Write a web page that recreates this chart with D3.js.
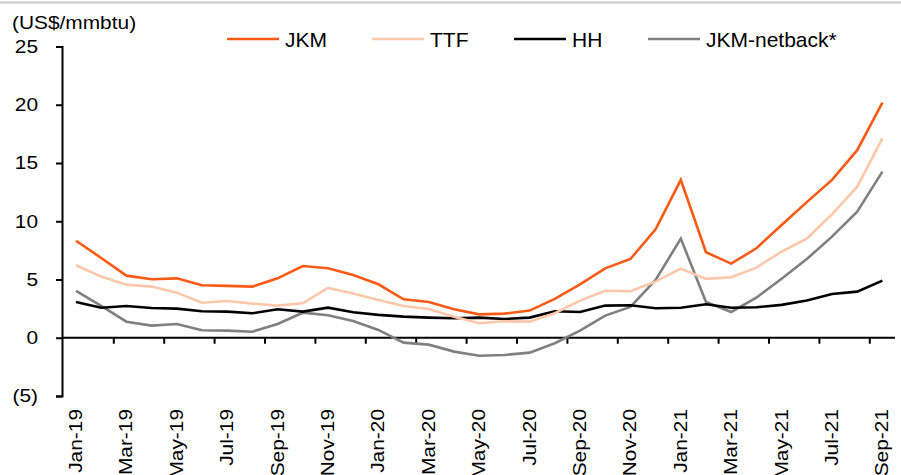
<!DOCTYPE html>
<html>
<head>
<meta charset="utf-8">
<script src="https://cdn.jsdelivr.net/npm/d3@7"></script>
<style>
  body { margin: 0; background: #fff; }
  svg { font-family: "Liberation Sans", Arial, sans-serif; }
</style>
</head>
<body>
<div id="chart"></div>
<script>
// monthly prices, Jan-19 .. Sep-21
const months = ['Jan-19','Feb-19','Mar-19','Apr-19','May-19','Jun-19','Jul-19','Aug-19','Sep-19','Oct-19','Nov-19','Dec-19',
  'Jan-20','Feb-20','Mar-20','Apr-20','May-20','Jun-20','Jul-20','Aug-20','Sep-20','Oct-20','Nov-20','Dec-20',
  'Jan-21','Feb-21','Mar-21','Apr-21','May-21','Jun-21','Jul-21','Aug-21','Sep-21'];
const jkm = [8.33, 6.85, 5.33, 5.02, 5.1, 4.5, 4.45, 4.39, 5.1, 6.16, 5.96, 5.39,
  4.59, 3.3, 3.07, 2.44, 2.01, 2.07, 2.33, 3.33, 4.59, 5.96, 6.76, 9.31,
  13.55, 7.34, 6.36, 7.68, 9.68, 11.64, 13.55, 16.1, 20.18];
const ttf = [6.22, 5.25, 4.56, 4.39, 3.87, 3.01, 3.16, 2.93, 2.76, 2.96, 4.27, 3.79,
  3.24, 2.73, 2.47, 1.81, 1.24, 1.41, 1.38, 2.1, 3.19, 4.04, 3.99, 4.82,
  5.93, 5.05, 5.19, 6.02, 7.39, 8.51, 10.6, 12.97, 17.12];
const hh = [3.07, 2.58, 2.73, 2.56, 2.5, 2.27, 2.24, 2.1, 2.44, 2.24, 2.58, 2.19,
  1.96, 1.81, 1.73, 1.67, 1.73, 1.61, 1.73, 2.27, 2.21, 2.76, 2.79, 2.53,
  2.58, 2.87, 2.58, 2.62, 2.82, 3.19, 3.76, 3.96, 4.9];
const netback = [4.02, 2.73, 1.38, 1.04, 1.18, 0.64, 0.61, 0.52, 1.18, 2.15, 1.93, 1.44,
  0.67, -0.42, -0.59, -1.19, -1.54, -1.48, -1.28, -0.47, 0.61, 1.9, 2.64, 4.96,
  8.51, 3.07, 2.21, 3.44, 5.07, 6.76, 8.68, 10.82, 14.26];
const yTicks = [-5, 0, 5, 10, 15, 20, 25];

const series = [
  { name: 'JKM', values: jkm, color: '#fa5a14' },
  { name: 'TTF', values: ttf, color: '#fdc8aa' },
  { name: 'HH', values: hh, color: '#000000' },
  { name: 'JKM-netback*', values: netback, color: '#808080' }
];

const width = 901, height = 475;
const stretch = 1.16; // axis text in the original is drawn wide

const svg = d3.select('#chart').append('svg')
  .attr('width', width)
  .attr('height', height);

const x = d3.scaleBand().domain(months).range([63.4, 895]).paddingInner(0).paddingOuter(0);
const y = d3.scaleLinear().domain([-5, 25]).range([396, 46.5]);
const cx = (m) => x(m) + x.bandwidth() / 2;

// top rule
svg.append('line')
  .attr('x1', 0).attr('x2', width)
  .attr('y1', 2.5).attr('y2', 2.5)
  .attr('stroke', '#c8c8c8').attr('stroke-width', 2);

// y axis
const yAxis = svg.append('g')
  .attr('transform', 'translate(' + 62 + ',0)')
  .call(d3.axisLeft(y).tickValues(yTicks).tickSize(6)
    .tickFormat((d) => d < 0 ? '(' + Math.abs(d) + ')' : d));
yAxis.select('.domain').attr('stroke', '#000').attr('stroke-width', 2);
yAxis.selectAll('.tick line').attr('stroke', '#000').attr('stroke-width', 2);
yAxis.selectAll('.tick text')
  .attr('x', 0)
  .attr('transform', 'translate(-24,0) scale(' + stretch + ',1)')
  .attr('fill', '#000')
  .style('font-size', '18px')
  .style('font-family', '"Liberation Sans", Arial, sans-serif');

svg.append('text')
  .attr('transform', 'translate(12,29) scale(' + stretch + ',1)')
  .style('font-size', '18px')
  .text('(US$/mmbtu)');

// x axis at zero
svg.append('line')
  .attr('x1', 62).attr('x2', 895)
  .attr('y1', y(0)).attr('y2', y(0))
  .attr('stroke', '#000').attr('stroke-width', 2);

const tickMonths = months.filter((m, i) => i > 0 && i % 2 === 0);
svg.selectAll('line.xtick')
  .data(tickMonths)
  .enter().append('line')
  .attr('class', 'xtick')
  .attr('x1', (d) => x(d)).attr('x2', (d) => x(d))
  .attr('y1', y(0)).attr('y2', y(0) + 6)
  .attr('stroke', '#000').attr('stroke-width', 2);

const labelMonths = months.filter((m, i) => i % 2 === 0);
svg.selectAll('text.xlabel')
  .data(labelMonths)
  .enter().append('text')
  .attr('class', 'xlabel')
  .attr('transform', (d) => 'translate(' + (cx(d) + 6) + ',409) rotate(-90) scale(' + stretch + ',1)')
  .attr('text-anchor', 'end')
  .style('font-size', '18px')
  .text((d) => d);

// lines
const line = d3.line()
  .x((d, i) => cx(months[i]))
  .y((d) => y(d));

svg.selectAll('path.series')
  .data(series.slice().reverse())
  .enter().append('path')
  .attr('class', 'series')
  .attr('d', (d) => line(d.values))
  .attr('fill', 'none')
  .attr('stroke', (d) => d.color)
  .attr('stroke-width', 2.6)
  .attr('stroke-linejoin', 'miter');

// legend
const legendX = [227, 372, 514, 648];
const legend = svg.selectAll('g.legend')
  .data(series)
  .enter().append('g')
  .attr('class', 'legend')
  .attr('transform', (d, i) => 'translate(' + legendX[i] + ',39)');
legend.append('line')
  .attr('x1', 0).attr('x2', 52)
  .attr('stroke', (d) => d.color)
  .attr('stroke-width', 2.6);
legend.append('text')
  .attr('x', 58).attr('y', 7.5)
  .style('font-size', '21px')
  .text((d) => d.name);
</script>
</body>
</html>
